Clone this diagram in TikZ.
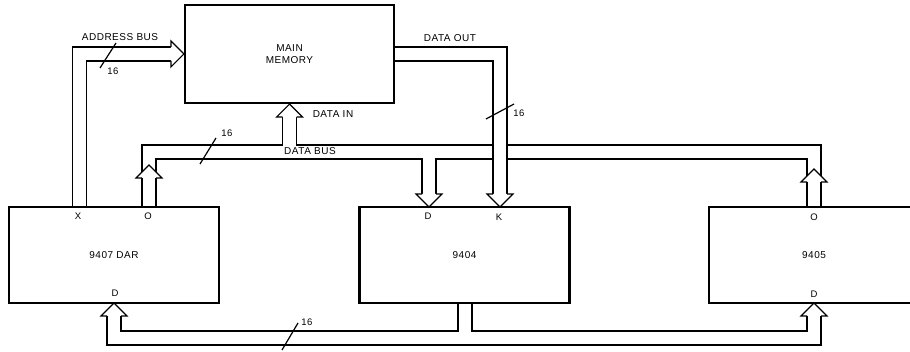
\documentclass[tikz,border=0pt]{standalone}
\usepackage{fontspec}
\newfontfamily\diagfont[LetterSpace=5]{Liberation Sans}
\usetikzlibrary{positioning,calc}

\begin{document}
\begin{tikzpicture}[x=1pt,y=-1pt,
        chip/.style={draw, line width=2.2pt, minimum width=210pt, minimum height=96pt,
            align=center, inner sep=0pt, font=\diagfont\fontsize{10}{12}\selectfont},
        bus/.style={line width=1.2pt},
        lbl/.style={inner sep=1pt, font=\diagfont\fontsize{10}{11}\selectfont},
        port/.style={inner sep=1pt, font=\diagfont\fontsize{9.5}{10}\selectfont},
        bushead/.pic={\filldraw[bus, fill=white] (-7,13) -- (-13,13) -- (0,0) -- (13,13) -- (7,13);}]
        \useasboundingbox (0,0) rectangle (910,352);
        \clip (0,0) rectangle (910,352);
        % Blocks
        \node[chip, minimum width=209pt, minimum height=98pt] (mem) at (289.5,54) {MAIN\\MEMORY};
        \node[chip] (dar) at (114,255) {\raisebox{-4pt}{9407 DAR}};
        \node[chip] (u9404) at (464.5,255) {\raisebox{-4pt}{9404}};
        \node[chip] (u9405) at (814,255) {\raisebox{-4pt}{9405}};
        % Ports
        \coordinate (darX) at (79.5,207);
        \coordinate (darO) at (149,207);
        \coordinate (darD) at (114,303);
        \coordinate (cmpD) at (429,207);
        \coordinate (cmpK) at (500,207);
        \coordinate (cmpQ) at (465,303);
        \coordinate (outO) at (814,207);
        \coordinate (outD) at (814,303);
        \node[port] (lX) at (78,216) {X};
        \node[port] (lO) at (148,216) {O};
        \node[port] (lD) at (115,293) {D};
        \node[port] (lcD) at (428,216) {D};
        \node[port] (lcK) at (499,217) {K};
        \node[port] (loO) at (814,217) {O};
        \node[port] (loD) at (814,294) {D};
        % Address bus
        \draw[bus] ([xshift=-7pt]darX) |- ([xshift=-13pt,yshift=7pt]mem.west);
        \draw[bus] ([xshift=7pt]darX) |- ([xshift=-13pt,yshift=-7pt]mem.west);
        \pic[rotate=-90] at (mem.west) {bushead};
        % Data bus
        \draw[bus] ([xshift=-7pt]darO) |- (282.5,145) -- ([xshift=-7pt,yshift=-13pt]mem.south);
        \draw[bus] ([xshift=7pt,yshift=-13pt]mem.south) |- (493,145);
        \draw[bus] (507,145) -| ([xshift=7pt]outO);
        \draw[bus] ([xshift=7pt]darO) |- (422,159) -- ([xshift=-7pt,yshift=13pt]cmpD);
        \draw[bus] ([xshift=7pt,yshift=13pt]cmpD) |- (493,159);
        \draw[bus] (507,159) -| ([xshift=-7pt]outO);
        % Data out
        \draw[bus] ([yshift=7pt]mem.east) -| ([xshift=7pt,yshift=13pt]cmpK);
        \draw[bus] ([yshift=-7pt]mem.east) -| ([xshift=-7pt,yshift=13pt]cmpK);
        % Feedback bus
        \draw[bus] ([xshift=-7pt]cmpQ) -- ++(0,28) -| ([xshift=7pt,yshift=-13pt]darD);
        \draw[bus] ([xshift=7pt]cmpQ) -- ++(0,28) -| ([xshift=-7pt,yshift=-13pt]outD);
        \draw[bus] ([xshift=-7pt,yshift=-13pt]darD) -- ++(0,29) -| ([xshift=7pt,yshift=-13pt]outD);
        % Arrow heads
        \pic at (mem.south) {bushead};
        \pic at (149,165) {bushead};
        \pic at (814,169) {bushead};
        \pic[rotate=180] at (cmpD) {bushead};
        \pic[rotate=180] at (cmpK) {bushead};
        \pic at (darD) {bushead};
        \pic at (outD) {bushead};
        % Bus widths
        \draw[bus] (100,68) -- (116,43);
        \node[port] (w16a) at (113,71) {16};
        \draw[bus] (200,164) -- (216,138);
        \node[port] (w16b) at (227,133) {16};
        \draw[bus] (486,119) -- (514,104);
        \node[port] (w16c) at (519,113) {16};
        \draw[bus] (282,350) -- (298,323);
        \node[port] (w16d) at (307,322) {16};
        % Bus names
        \node[lbl] (addr) at (120,37) {ADDRESS BUS};
        \node[lbl] (dout) at (450,38) {DATA OUT};
        \node[lbl] (din) at (333,114) {DATA IN};
        \node[lbl] (dbus) at (310,151) {DATA BUS};
    \end{tikzpicture}
\end{document}
